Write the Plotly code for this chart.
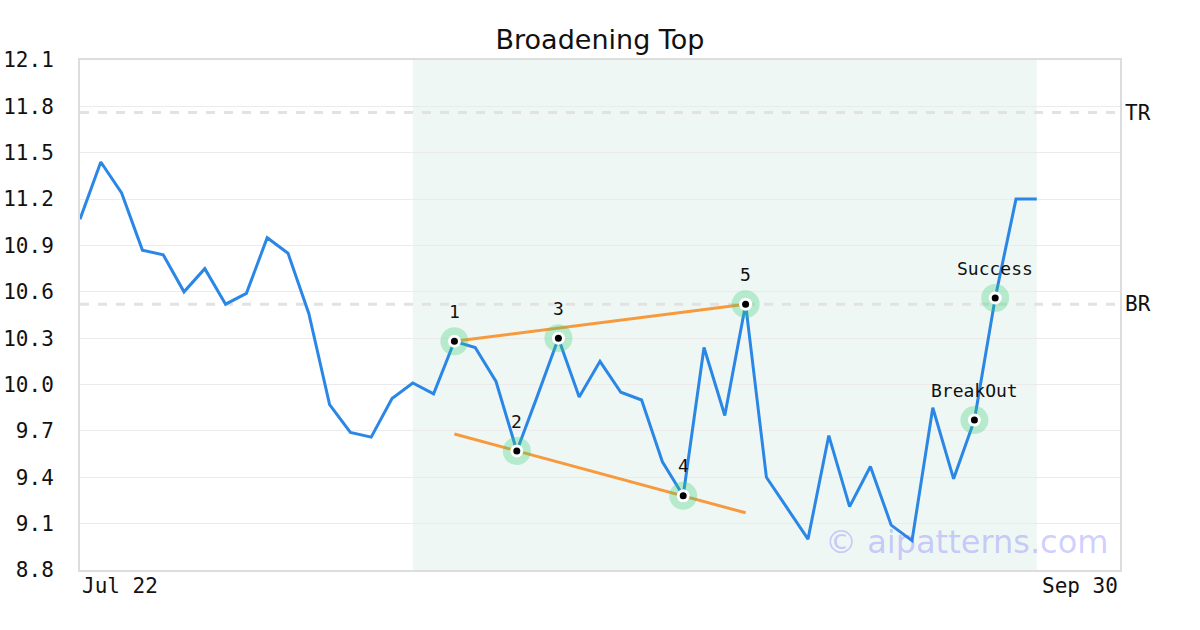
import plotly.graph_objects as go

# ---- data ----
prices = [11.07, 11.44, 11.24, 10.87, 10.84, 10.60, 10.75, 10.52, 10.59, 10.95,
          10.85, 10.46, 9.87, 9.69, 9.66, 9.91, 10.01, 9.94, 10.28, 10.24,
          10.02, 9.57, 9.93, 10.30, 9.92, 10.15, 9.95, 9.90, 9.50, 9.28,
          10.24, 9.80, 10.52, 9.40, 9.20, 9.00, 9.67, 9.21, 9.47, 9.09,
          8.99, 9.85, 9.39, 9.77, 10.56, 11.20, 11.20]
idx = list(range(len(prices)))

point_labels = ["1", "2", "3", "4", "5", "BreakOut", "Success"]
point_idx = [18, 21, 23, 29, 32, 43, 44]

upper_line_x = [18, 32]
upper_line_y = [10.28, 10.52]
lower_line_x = [18, 32]
lower_line_y = [9.68, 9.17]

level_names = ["TR", "BR"]
level_values = [11.76, 10.52]

pattern_span = [16, 46]
x_range = [0, 50]
x_tick_labels = ["Jul 22", "Sep 30"]
y_ticks = [8.8, 9.1, 9.4, 9.7, 10.0, 10.3, 10.6, 10.9, 11.2, 11.5, 11.8, 12.1]

MONO = "DejaVu Sans Mono"
SANS = "DejaVu Sans"

W, H = 1200, 630

fig = go.Figure()

fig.add_shape(type="rect", xref="x", yref="paper", x0=pattern_span[0], x1=pattern_span[1],
              y0=0, y1=1, fillcolor="#eff7f4", line_width=0, layer="below")

for v in level_values:
    fig.add_shape(type="line", xref="paper", yref="y", x0=0, x1=1, y0=v, y1=v,
                  line=dict(color="#e2e2e2", width=3, dash="dash"), layer="below")

fig.add_trace(go.Scatter(x=idx, y=prices, mode="lines",
                         line=dict(color="#2b87e6", width=3), hoverinfo="skip"))
fig.add_trace(go.Scatter(x=upper_line_x, y=upper_line_y, mode="lines",
                         line=dict(color="#f79a3e", width=3), hoverinfo="skip"))
fig.add_trace(go.Scatter(x=lower_line_x, y=lower_line_y, mode="lines",
                         line=dict(color="#f79a3e", width=3), hoverinfo="skip"))

px_ = [idx[i] for i in point_idx]
py_ = [prices[i] for i in point_idx]
fig.add_trace(go.Scatter(x=px_, y=py_, mode="markers",
                         marker=dict(size=28, color="rgba(46,204,113,0.3)", line_width=0)))
fig.add_trace(go.Scatter(x=px_, y=py_, mode="markers",
                         marker=dict(size=13, color="white", line_width=0)))
fig.add_trace(go.Scatter(x=px_, y=py_, mode="markers",
                         marker=dict(size=7, color="black", line_width=0)))

for lab, x, y in zip(point_labels, px_, py_):
    fig.add_annotation(x=x, y=y, text=lab, showarrow=False, yshift=30,
                       font=dict(family=MONO, size=18, color="#111"))

for name, v in zip(level_names, level_values):
    fig.add_annotation(xref="paper", x=1, y=v, text=name, showarrow=False,
                       xanchor="left", xshift=3, font=dict(family=MONO, size=21, color="#111"))

fig.add_annotation(xref="x", yref="paper", x=x_range[0], y=0, text=x_tick_labels[0],
                   showarrow=False, xanchor="left", yanchor="top", yshift=-2,
                   font=dict(family=MONO, size=21, color="#111"))
fig.add_annotation(xref="x", yref="paper", x=x_range[1], y=0, text=x_tick_labels[1],
                   showarrow=False, xanchor="right", yanchor="top", yshift=-2,
                   font=dict(family=MONO, size=21, color="#111"))

fig.add_annotation(xref="paper", yref="paper", x=0.99, y=0.055, text="© aipatterns.com",
                   showarrow=False, xanchor="right", yanchor="middle",
                   font=dict(family=SANS, size=32, color="rgba(90,90,255,0.3)"))

fig.update_layout(
    width=W, height=H,
    margin=dict(l=80, r=80, t=60, b=60, autoexpand=False),
    paper_bgcolor="white", plot_bgcolor="white",
    showlegend=False,
    title=dict(text="Broadening Top", x=0.5, xanchor="center", y=1 - 40 / H, yanchor="middle",
               font=dict(family=SANS, size=27, color="#111")),
    xaxis=dict(range=x_range, showgrid=False, zeroline=False, showticklabels=False,
               showline=True, mirror=True, linecolor="#dddddd", linewidth=2, automargin=False),
    yaxis=dict(range=[y_ticks[0], y_ticks[-1]], tickvals=y_ticks,
               ticktext=[f"{v:.1f}" for v in y_ticks],
               showgrid=True, gridcolor="#ebebeb", gridwidth=1, zeroline=False,
               showline=True, mirror=True, linecolor="#dddddd", linewidth=2,
               ticklabelstandoff=20, automargin=False,
               tickfont=dict(family=MONO, size=21, color="#111")),
)

fig.write_html("out.html",
               config={"displayModeBar": False},
               post_script="document.body.style.margin='0';document.body.style.overflow='hidden';")
